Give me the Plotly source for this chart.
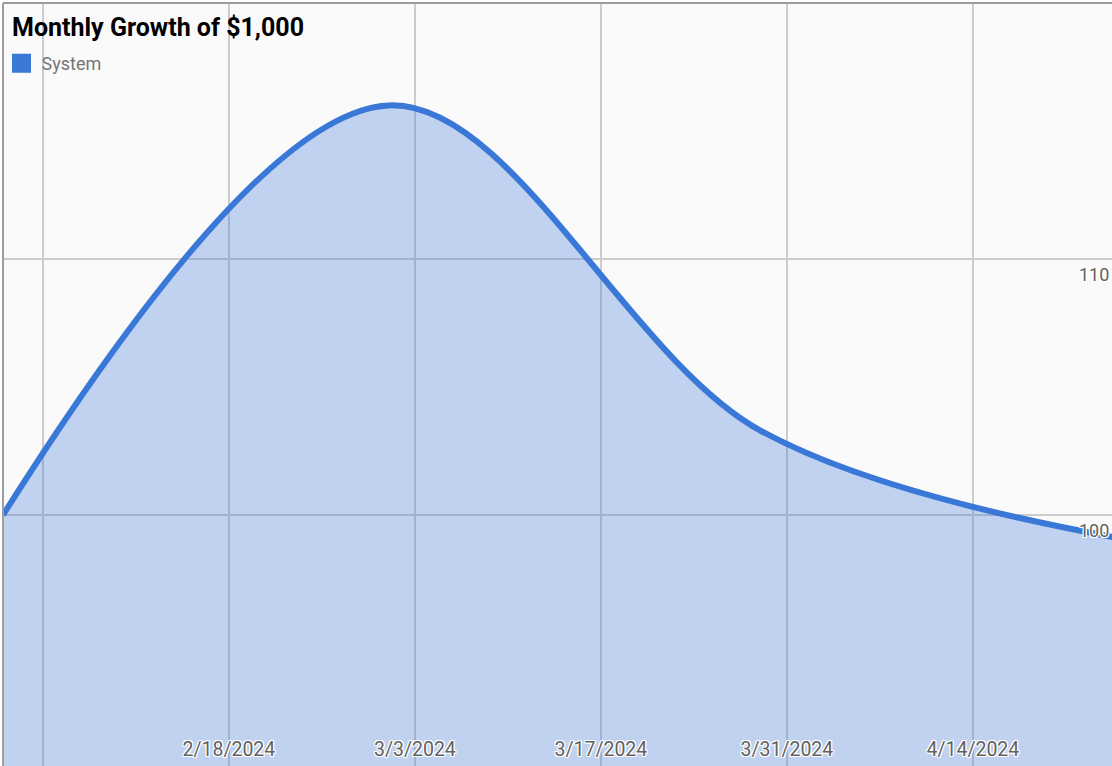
import plotly.graph_objects as go

# Portfolio value at each four-week checkpoint
dates = ["2024-02-01", "2024-03-01", "2024-03-29", "2024-04-26"]
values = [1000, 1160, 1033, 990]

# Axis ticks
x_ticks = ["2024-02-04", "2024-02-18", "2024-03-03", "2024-03-17", "2024-03-31", "2024-04-14"]
x_tick_labels = ["", "2/18/2024", "3/3/2024", "3/17/2024", "3/31/2024", "4/14/2024"]
y_ticks = [1000, 1100]
y_tick_labels = ["100", "110"]

series_name = "System"
title_text = "Monthly Growth of $1,000"

BLUE = "#3a78d8"
FILL = "rgba(58,120,216,0.30)"
HALO = ("white 1px 1px 0px, white -1px -1px 0px, white 1px -1px 0px, white -1px 1px 0px, "
        "white 0px 1px 0px, white 0px -1px 0px, white 1px 0px 0px, white -1px 0px 0px")

fig = go.Figure()

fig.add_trace(go.Scatter(
    x=dates, y=values,
    mode="lines",
    line=dict(color=BLUE, width=6, shape="spline", smoothing=1.0),
    fill="tozeroy", fillcolor=FILL,
    showlegend=False, hoverinfo="skip",
))

# Legend entry
fig.add_trace(go.Scatter(
    x=[None], y=[None], mode="markers", name=series_name,
    marker=dict(symbol="square", size=16, color=BLUE, line=dict(color=BLUE, width=3)),
))

# Value labels for the horizontal gridlines, sitting just under each line
for v, t in zip(y_ticks, y_tick_labels):
    fig.add_annotation(
        x=1, xref="paper", y=v, yref="y",
        xanchor="right", yanchor="top", xshift=-1, yshift=-3,
        text=t, showarrow=False,
        font=dict(family="Roboto", size=18, color="#616161", shadow=HALO),
    )

fig.update_layout(
    width=1112, height=766,
    margin=dict(l=3, r=0, t=3, b=0, autoexpand=False),
    paper_bgcolor="white",
    plot_bgcolor="#fafafa",
    title=dict(
        text=title_text,
        x=12 / 1112, xanchor="left", xref="container",
        y=1 - 27 / 766, yanchor="middle", yref="container",
        font=dict(family="Roboto", size=25, color="black", weight="bold"),
    ),
    legend=dict(
        x=1.5 / 1112, xref="container", xanchor="left",
        y=1 - 45 / 766, yref="container", yanchor="top",
        bgcolor="rgba(0,0,0,0)",
        font=dict(family="Roboto", size=18, color="#757575"),
    ),
    xaxis=dict(
        type="date",
        range=["2024-02-01", "2024-04-24 11:17"],
        tickvals=x_ticks, ticktext=x_tick_labels,
        ticklabelposition="inside", ticks="", ticklabelstandoff=3,
        showgrid=True, gridcolor="#cccccc", gridwidth=1.5,
        zeroline=False, showline=False,
        tickfont=dict(family="Roboto", size=19.5, color="#616161", shadow=HALO),
    ),
    yaxis=dict(
        range=[901.95, 1200],
        tickvals=y_ticks, showticklabels=False, ticks="",
        showgrid=True, gridcolor="#cccccc", gridwidth=1.5,
        zeroline=False, showline=False,
    ),
    shapes=[
        dict(type="line", xref="paper", yref="paper", x0=0, x1=1, y0=1, y1=1,
             line=dict(color="#9e9e9e", width=2)),
        dict(type="line", xref="paper", yref="paper", x0=0, x1=0, y0=0, y1=1,
             line=dict(color="#9e9e9e", width=2)),
    ],
)

fig.write_html("out.html")
